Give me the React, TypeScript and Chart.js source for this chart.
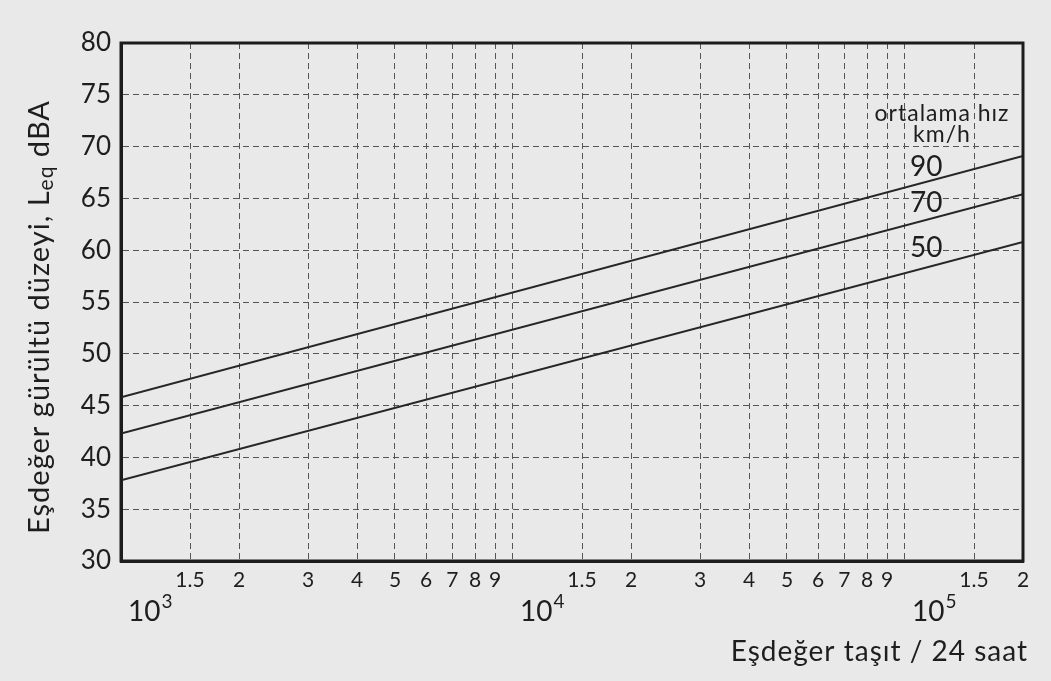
import React, { useEffect, useRef } from 'react';
import { Chart, registerables } from 'chart.js';

Chart.register(...registerables);

// ---- data ----
const xMin = 1000;
const xMax = 200000;
const yMin = 30;
const yMax = 80;
const yStep = 5;

const traffic = [1000, 200000];
const leq90 = [45.8, 69.1];
const leq70 = [42.3, 65.4];
const leq50 = [37.8, 60.8];
const speedNames = ['90', '70', '50'];
const speedLabelX = 103000;
const speedLabelY = [68.0, 64.6, 60.2];

const gridValues = [
  1000, 1500, 2000, 3000, 4000, 5000, 6000, 7000, 8000, 9000,
  10000, 15000, 20000, 30000, 40000, 50000, 60000, 70000, 80000, 90000,
  100000, 150000, 200000,
];
const gridLabels = [
  '', '1.5', '2', '3', '4', '5', '6', '7', '8', '9',
  '', '1.5', '2', '3', '4', '5', '6', '7', '8', '9',
  '', '1.5', '2',
];
const decades = [1000, 10000, 100000];
const decadeExponents = ['3', '4', '5'];

const legendLines = ['ortalama hız', 'km/h'];
const legendX = 124300;
const legendY = [72.5, 70.4];
const xTitle = 'Eşdeğer taşıt / 24 saat';
const yTitleParts = ['Eşdeğer gürültü düzeyi, L', 'eq', ' dBA'];

const FONT = 'Lato, "Open Sans", "DejaVu Sans", sans-serif';
const INK = '#1e1e1e';

const overlayPlugin = {
  id: 'overlay',
  afterDraw(chart: any) {
    const { ctx, chartArea } = chart;
    const xs = chart.scales.x;
    const ys = chart.scales.y;
    ctx.save();
    // frame
    ctx.strokeStyle = '#1c1c1c';
    ctx.lineWidth = 3;
    ctx.setLineDash([]);
    ctx.strokeRect(chartArea.left, chartArea.top, chartArea.right - chartArea.left, chartArea.bottom - chartArea.top);

    ctx.fillStyle = INK;
    // decade labels
    decades.forEach((d, i) => {
      const px = xs.getPixelForValue(d) + 7;
      ctx.font = `28px ${FONT}`;
      ctx.textAlign = 'left';
      ctx.textBaseline = 'alphabetic';
      ctx.fillText('10', px, 621);
      const w = ctx.measureText('10').width;
      ctx.font = `19px ${FONT}`;
      ctx.fillText(decadeExponents[i], px + w + 1, 608);
    });

    (ctx as any).letterSpacing = '1px';
    // x title
    ctx.font = `28px ${FONT}`;
    ctx.textAlign = 'right';
    ctx.fillText(xTitle, 1028, 661);

    // y title with subscript
    ctx.save();
    ctx.translate(49, 317);
    ctx.rotate(-Math.PI / 2);
    const big = `29px ${FONT}`;
    const small = `21px ${FONT}`;
    ctx.font = big;
    const w0 = ctx.measureText(yTitleParts[0]).width;
    const w2 = ctx.measureText(yTitleParts[2]).width;
    ctx.font = small;
    const w1 = ctx.measureText(yTitleParts[1]).width;
    let cx = -(w0 + w1 + w2) / 2;
    ctx.textAlign = 'left';
    ctx.font = big;
    ctx.fillText(yTitleParts[0], cx, 0);
    cx += w0;
    ctx.font = small;
    ctx.fillText(yTitleParts[1], cx, 4);
    cx += w1;
    ctx.font = big;
    ctx.fillText(yTitleParts[2], cx, 0);
    ctx.restore();

    // legend heading
    ctx.font = `23px ${FONT}`;
    ctx.textAlign = 'center';
    ctx.textBaseline = 'alphabetic';
    legendLines.forEach((t, i) => {
      ctx.fillText(t, xs.getPixelForValue(legendX), ys.getPixelForValue(legendY[i]));
    });
    (ctx as any).letterSpacing = '0px';

    // speed labels
    ctx.font = `28px ${FONT}`;
    ctx.textAlign = 'left';
    ctx.textBaseline = 'middle';
    speedNames.forEach((t, i) => {
      ctx.fillText(t, xs.getPixelForValue(speedLabelX), ys.getPixelForValue(speedLabelY[i]));
    });
    ctx.restore();
  },
};

export default function App() {
  const canvasRef = useRef<HTMLCanvasElement>(null);

  useEffect(() => {
    const canvas = canvasRef.current;
    if (!canvas) return;
    const series = [leq90, leq70, leq50];
    const chart = new Chart(canvas, {
      type: 'line',
      data: {
        datasets: series.map((s, i) => ({
          label: speedNames[i],
          data: traffic.map((x, j) => ({ x, y: s[j] })),
          borderColor: '#262626',
          borderWidth: 2,
          pointRadius: 0,
          tension: 0,
          fill: false,
        })),
      },
      options: {
        responsive: false,
        animation: false,
        devicePixelRatio: 1,
        layout: { padding: { left: 0, top: 43, right: 28, bottom: 0 } },
        plugins: {
          legend: { display: false },
          tooltip: { enabled: false },
          title: { display: false },
        },
        scales: {
          x: {
            type: 'logarithmic',
            min: xMin,
            max: xMax,
            afterBuildTicks: (scale: any) => {
              scale.ticks = gridValues.map((v) => ({ value: v }));
            },
            afterFit: (scale: any) => {
              scale.height = 120;
            },
            ticks: {
              autoSkip: false,
              maxRotation: 0,
              minRotation: 0,
              padding: 7,
              color: INK,
              font: { family: FONT, size: 21 },
              callback: (_v: any, i: number) => gridLabels[i],
            },
            grid: { color: '#555555', lineWidth: 1, drawTicks: false },
            border: { display: true, color: '#1c1c1c', width: 3, dash: [6, 4] },
          },
          y: {
            type: 'linear',
            min: yMin,
            max: yMax,
            afterFit: (scale: any) => {
              scale.width = 121;
            },
            ticks: {
              stepSize: yStep,
              padding: 10,
              color: INK,
              font: { family: FONT, size: 26 },
            },
            grid: { color: '#555555', lineWidth: 1, drawTicks: false },
            border: { display: true, color: '#1c1c1c', width: 3, dash: [6, 4] },
          },
        },
      },
      plugins: [overlayPlugin],
    } as any);
    return () => chart.destroy();
  }, []);

  return (
    <div style={{ position: 'fixed', left: 0, top: 0, width: 1051, height: 681, background: '#e9e9e9' }}>
      <canvas ref={canvasRef} width={1051} height={681} style={{ display: 'block', width: 1051, height: 681 }} />
    </div>
  );
}
